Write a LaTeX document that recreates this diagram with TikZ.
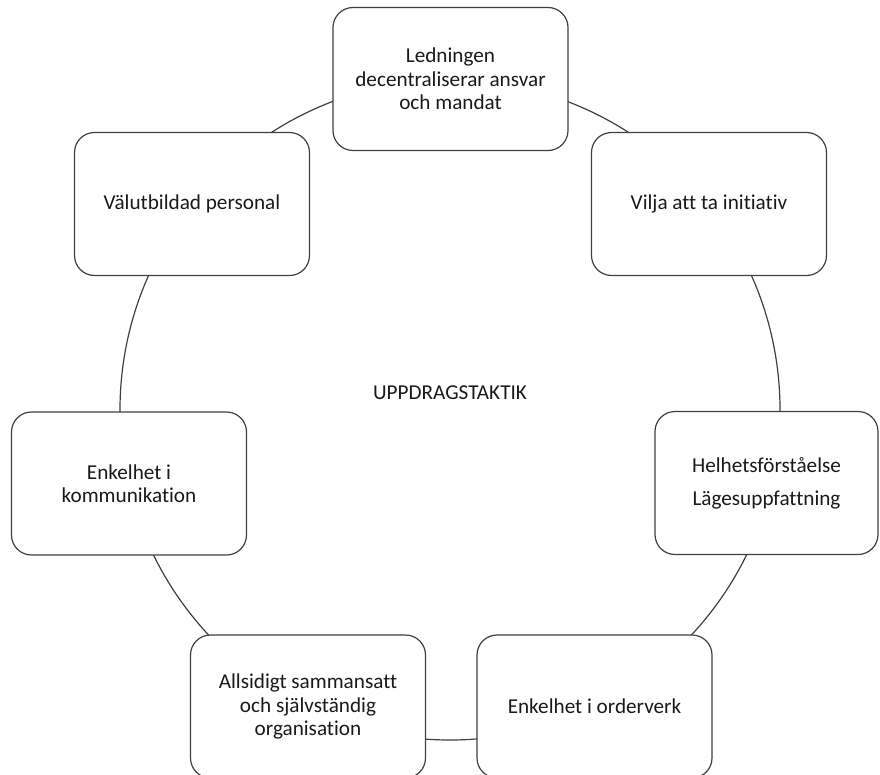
\documentclass[tikz,border=0pt]{standalone}
\usepackage{fontspec}
\setmainfont{Carlito}[Ligatures={NoCommon}]
\definecolor{linegray}{HTML}{404040}
\definecolor{textgray}{HTML}{1A1A1A}
\begin{document}
\begin{tikzpicture}[x=0.75pt,y=-0.75pt,
  card/.style={draw=linegray, line width=0.9pt, fill=white, rounded corners=15pt,
    minimum width=176.25pt, minimum height=107.25pt, align=center, inner sep=2pt,
    text=textgray, font=\fontsize{15.9pt}{17.5pt}\selectfont},
  ring/.style={draw=linegray, line width=0.9pt},
  title/.style={text=textgray, font=\fontsize{15.9pt}{17.5pt}\selectfont}]
\useasboundingbox (0,0) rectangle (880,774);
\clip (0,0) rectangle (880,774);
\fill[white] (0,0) rectangle (880,774);
\coordinate (ctr) at (450,410);
\draw[ring] (ctr) circle (247.5pt);
\node[card] (led) at (450.5,79) {Ledningen\\decentraliserar ansvar\\och mandat};
\node[card] (val) at (192,204) {Välutbildad personal};
\node[card] (vil) at (709,204) {Vilja att ta initiativ};
\node[card] (kom) at (129,483.5) {Enkelhet i\\kommunikation};
\node[card, minimum width=167.25pt] (hel) at (766.5,483) {Helhetsförståelse\\[7pt]Lägesuppfattning};
\node[card] (all) at (308,706.5) {Allsidigt sammansatt\\och självständig\\organisation};
\node[card] (ord) at (594.5,706.5) {Enkelhet i orderverk};
\node[title] (upp) at (450,393) {UPPDRAGSTAKTIK};
\end{tikzpicture}
\end{document}
